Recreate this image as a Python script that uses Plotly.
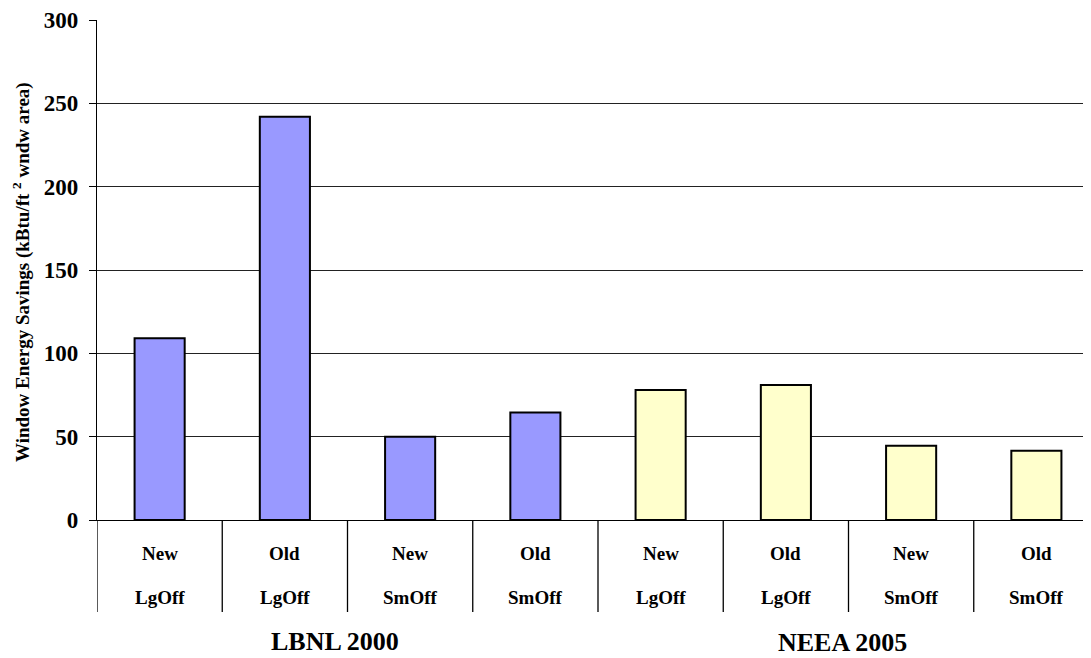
import plotly.graph_objects as go

# ---- data ----
top_labels = ["New", "Old", "New", "Old", "New", "Old", "New", "Old"]
bottom_labels = ["LgOff", "LgOff", "SmOff", "SmOff", "LgOff", "LgOff", "SmOff", "SmOff"]
group_names = ["LBNL 2000", "NEEA 2005"]
lbnl_values = [109, 242, 50, 64.5]
neea_values = [78, 81, 44.5, 41.5]
y_ticks = [0, 50, 100, 150, 200, 250, 300]
y_title = "Window Energy Savings (kBtu/ft <sup>2</sup> wndw area)"

FONT = "Liberation Serif"
n_lbnl = len(lbnl_values)
n_neea = len(neea_values)
x_lbnl = list(range(n_lbnl))
x_neea = list(range(n_lbnl, n_lbnl + n_neea))
n_cat = n_lbnl + n_neea

fig = go.Figure()
fig.add_trace(go.Bar(x=x_lbnl, y=lbnl_values, width=0.4,
                     marker=dict(color="#9999FF", line=dict(color="black", width=2)),
                     name=group_names[0], showlegend=False))
fig.add_trace(go.Bar(x=x_neea, y=neea_values, width=0.4,
                     marker=dict(color="#FFFFCC", line=dict(color="black", width=2)),
                     name=group_names[1], showlegend=False))

shapes = []
for i in range(n_cat + 1):
    shapes.append(dict(type="line", xref="x", yref="paper", x0=i - 0.5, x1=i - 0.5,
                       y0=0, y1=-0.184, line=dict(color="black", width=1.3)))

annotations = []
for i in range(n_cat):
    annotations.append(dict(x=i, y=0, xref="x", yref="paper", yshift=-33,
                            yanchor="middle", xanchor="center",
                            text=top_labels[i], showarrow=False,
                            font=dict(family=FONT, size=19, color="black", weight="bold")))
    annotations.append(dict(x=i, y=0, xref="x", yref="paper", yshift=-77,
                            yanchor="middle", xanchor="center",
                            text=bottom_labels[i], showarrow=False,
                            font=dict(family=FONT, size=19, color="black", weight="bold")))
group_centers = [(n_lbnl - 1) / 2 - 0.1, n_lbnl + (n_neea - 1) / 2 - 0.05]
group_shift = [-121, -122]
for g, cx, ys in zip(group_names, group_centers, group_shift):
    annotations.append(dict(x=cx, y=0, xref="x", yref="paper", yshift=ys,
                            yanchor="middle", xanchor="center",
                            text=g, showarrow=False,
                            font=dict(family=FONT, size=26, color="black", weight="bold")))
annotations.append(dict(x=0, y=0.496, xref="paper", yref="paper", xshift=-76,
                        xanchor="center", yanchor="middle",
                        text=y_title, textangle=-90, showarrow=False,
                        font=dict(family=FONT, size=19, color="black", weight="bold")))

fig.update_layout(
    width=1091, height=658,
    margin=dict(l=89, r=0, t=12, b=146, autoexpand=False),
    paper_bgcolor="white", plot_bgcolor="white",
    barmode="overlay",
    shapes=shapes, annotations=annotations,
    xaxis=dict(range=[-0.5, n_cat - 0.5], showticklabels=False, showgrid=False,
               zeroline=False, showline=True, linecolor="black", linewidth=1.3,
               ticks="", automargin=False),
    yaxis=dict(range=[0, 300], tickvals=y_ticks, ticks="outside", ticklen=7,
               tickcolor="black", tickwidth=1.3, automargin=False,
               ticklabelstandoff=6,
               showline=True, linecolor="black", linewidth=1.3,
               showgrid=True, gridcolor="#222", gridwidth=1, zeroline=False,
               tickfont=dict(family=FONT, size=23, color="black", weight="bold")),
)

fig.write_html("out.html")
